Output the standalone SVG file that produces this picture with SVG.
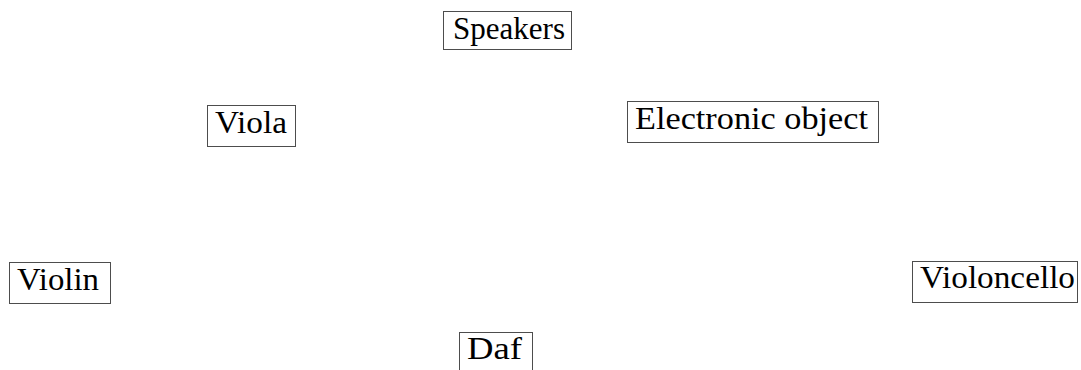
<svg xmlns="http://www.w3.org/2000/svg" width="1081" height="370" viewBox="0 0 1081 370">
  <style>
    .box { fill: #ffffff; stroke: #4d4d4d; stroke-width: 1; }
    .label { font-family: "Liberation Serif", "Times New Roman", serif; font-size: 31px; fill: #000000; }
  </style>
  <rect width="1081" height="370" fill="#ffffff"/>
  <g id="connectors"></g>
  <g id="speakers">
    <rect class="box" x="443.5" y="11.5" width="128" height="38"/>
    <text class="label" x="453" y="38.5" textLength="112" lengthAdjust="spacingAndGlyphs">Speakers</text>
  </g>
  <g id="viola">
    <rect class="box" x="207.5" y="105.5" width="88" height="41"/>
    <text class="label" x="215" y="132.5" textLength="72" lengthAdjust="spacingAndGlyphs">Viola</text>
  </g>
  <g id="electronic-object">
    <rect class="box" x="627.5" y="101.5" width="251" height="41"/>
    <text class="label" x="635" y="129" textLength="233" lengthAdjust="spacingAndGlyphs">Electronic object</text>
  </g>
  <g id="violin">
    <rect class="box" x="9.5" y="262.5" width="101" height="41"/>
    <text class="label" x="17" y="289.5" textLength="82" lengthAdjust="spacingAndGlyphs">Violin</text>
  </g>
  <g id="violoncello">
    <rect class="box" x="912.5" y="261.5" width="165" height="41"/>
    <text class="label" x="920" y="288" textLength="155" lengthAdjust="spacingAndGlyphs">Violoncello</text>
  </g>
  <g id="daf">
    <rect class="box" x="459.5" y="332.5" width="73" height="41"/>
    <text class="label" x="467" y="359" textLength="55" lengthAdjust="spacingAndGlyphs">Daf</text>
  </g>
</svg>
